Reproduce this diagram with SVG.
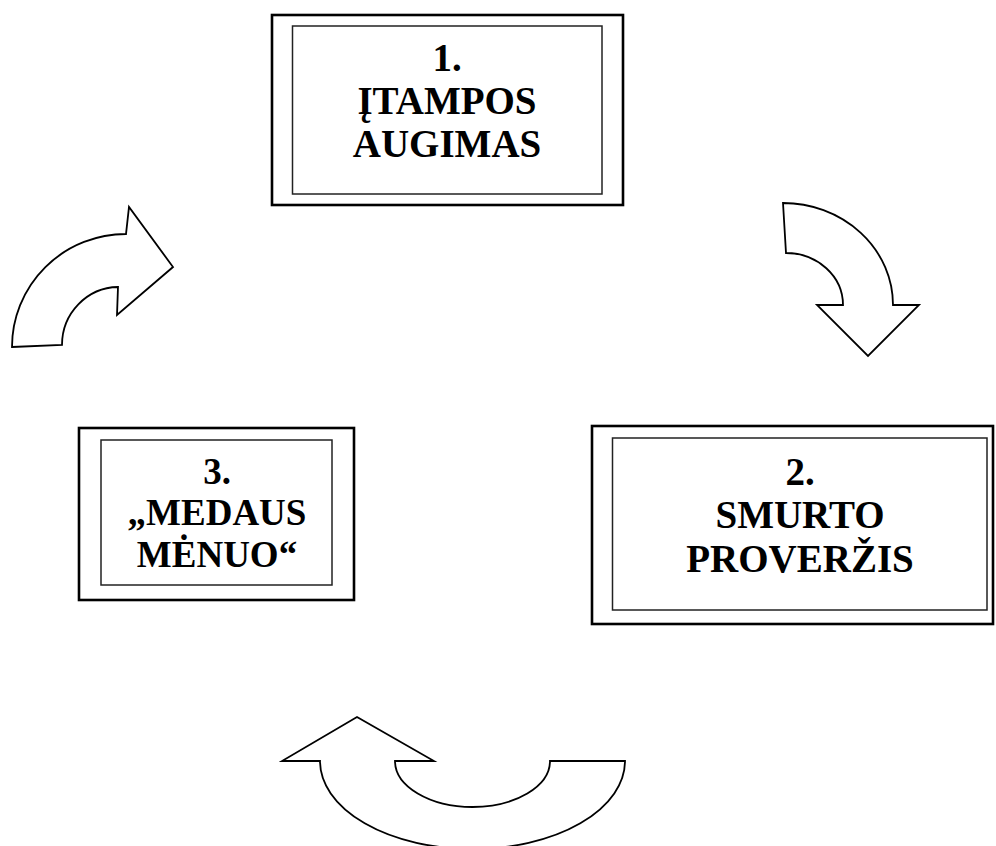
<svg xmlns="http://www.w3.org/2000/svg" width="996" height="846" viewBox="0 0 996 846">
<style>
.outer{fill:#fff;stroke:#000;stroke-width:2.6}
.inner{fill:#fff;stroke:#222;stroke-width:1.5}
.lbl{font-family:"Liberation Serif","Times New Roman",serif;font-weight:bold;font-size:39px;fill:#000;text-anchor:middle}
.sm{font-size:37px}
.arrow{fill:#fff;stroke:#000;stroke-width:1.8;stroke-linejoin:miter}
</style>
<rect width="996" height="846" fill="#fff"/>
<g id="node1">
<rect class="outer" x="272" y="15" width="351" height="190"/>
<rect class="inner" x="292.5" y="26" width="309.5" height="168"/>
<text class="lbl" x="447" y="71">1.</text>
<text class="lbl" x="447" y="114">ĮTAMPOS</text>
<text class="lbl" x="447" y="157">AUGIMAS</text>
</g>
<g id="node2">
<rect class="outer" x="592" y="426" width="401" height="198"/>
<rect class="inner" x="612.5" y="438" width="374.5" height="172"/>
<text class="lbl" x="800" y="485">2.</text>
<text class="lbl" x="800" y="528">SMURTO</text>
<text class="lbl" x="800" y="572">PROVERŽIS</text>
</g>
<g id="node3">
<rect class="outer" x="79" y="428" width="275" height="172"/>
<rect class="inner" x="101" y="440" width="231" height="145"/>
<text class="lbl sm" x="217" y="484">3.</text>
<text class="lbl sm" x="217" y="525">„MEDAUS</text>
<text class="lbl sm" x="217" y="567">MĖNUO“</text>
</g>
<g id="connectors">
<path class="arrow" d="M12 347 L62 345 A57 58 0 0 1 118 287 L117 315 L173 267 L129 207 L126 234 A114 113 0 0 0 12 347 Z"/>
<path class="arrow" d="M783 203 A110 102 0 0 1 893 305 L919 305 L868 356 L817 305 L843 305 A57 52 0 0 0 786 253 Z"/>
<path class="arrow" d="M357 717 L434 761 L395 761 A77.5 46 0 0 0 550 761 L625 761 A152.5 88 0 0 1 320 761 L282 761 Z"/>
</g>
</svg>
